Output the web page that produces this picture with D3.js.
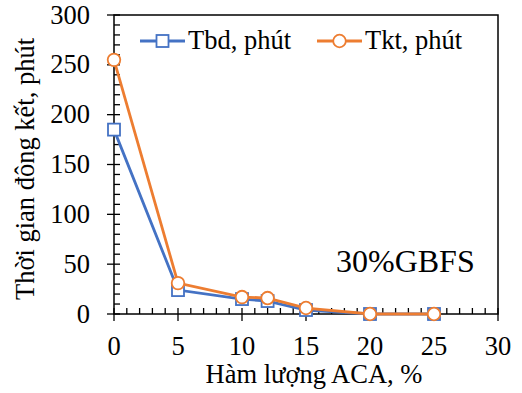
<!DOCTYPE html>
<html><head><meta charset="utf-8">
<script src="https://cdn.jsdelivr.net/npm/d3@7"></script>
<style>body{margin:0;background:#fff}svg{display:block}</style>
</head><body>
<script>
const xValues = [0, 5, 10, 12, 15, 20, 25];
const tbd = [185, 24, 15, 13, 4, 0, 0];
const tkt = [255, 31, 17, 16, 6, 0, 0];
const xTicks = [0, 5, 10, 15, 20, 25, 30];
const yTicks = [0, 50, 100, 150, 200, 250, 300];
const seriesNames = ["Tbd, phút", "Tkt, phút"];
const colors = ["#4472C4", "#ED7D31"];

const FONT = "'Liberation Serif', 'Times New Roman', serif";
const FS = 26.5;
const W = 522, H = 393;
const m = {l: 114, r: 24, t: 15, b: 79};
const svg = d3.select("body").append("svg").attr("width", W).attr("height", H);
const x = d3.scaleLinear().domain([0, 30]).range([m.l, W - m.r]);
const y = d3.scaleLinear().domain([0, 300]).range([H - m.b, m.t]);

// frame
svg.append("rect").attr("x", x(0)).attr("y", y(300)).attr("width", x(30) - x(0)).attr("height", y(0) - y(300))
  .attr("fill", "none").attr("stroke", "#000").attr("stroke-width", 1.5);

// ticks
const g = svg.append("g").attr("stroke", "#000").attr("stroke-width", 1.3);
d3.range(0, 31, 1).forEach(v => {
  if (v % 5 === 0) g.append("line").attr("x1", x(v)).attr("x2", x(v)).attr("y1", y(0) - 6).attr("y2", y(0) + 7);
  else g.append("line").attr("x1", x(v)).attr("x2", x(v)).attr("y1", y(0) - 6).attr("y2", y(0));
});
d3.range(0, 301, 10).forEach(v => {
  if (v % 50 === 0) g.append("line").attr("x1", x(0) - 7).attr("x2", x(0) + 6).attr("y1", y(v)).attr("y2", y(v));
  else g.append("line").attr("x1", x(0)).attr("x2", x(0) + 6).attr("y1", y(v)).attr("y2", y(v));
});

// tick labels
svg.append("g").selectAll("text").data(xTicks).join("text").attr("font-family", FONT)
  .attr("x", d => x(d)).attr("y", 355).attr("text-anchor", "middle").attr("font-size", FS).text(d => d);
svg.append("g").selectAll("text").data(yTicks).join("text").attr("font-family", FONT)
  .attr("x", 90).attr("y", d => y(d) + 8.5).attr("text-anchor", "end").attr("font-size", FS).text(d => d);

// axis titles
svg.append("text").attr("font-family", FONT).attr("x", 314).attr("y", 383).attr("text-anchor", "middle").attr("font-size", FS).text("Hàm lượng ACA, %");
svg.append("text").attr("font-family", FONT).attr("transform", "translate(34,169) rotate(-90)").attr("text-anchor", "middle").attr("font-size", FS).text("Thời gian đông kết, phút");

// series
const line = d3.line().x(d => x(d[0])).y(d => y(d[1]));
const data = [tbd, tkt].map(s => xValues.map((v, i) => [v, s[i]]));
data.forEach((pts, k) => {
  svg.append("path").datum(pts).attr("d", line).attr("fill", "none").attr("stroke", colors[k]).attr("stroke-width", 2.8);
  if (k === 0) {
    svg.append("g").selectAll("rect").data(pts).join("rect")
      .attr("x", d => x(d[0]) - 6).attr("y", d => y(d[1]) - 6).attr("width", 12).attr("height", 12)
      .attr("fill", "#fff").attr("stroke", colors[k]).attr("stroke-width", 1.8);
  } else {
    svg.append("g").selectAll("circle").data(pts).join("circle")
      .attr("cx", d => x(d[0])).attr("cy", d => y(d[1])).attr("r", 6.3)
      .attr("fill", "#fff").attr("stroke", colors[k]).attr("stroke-width", 1.8);
  }
});

// legend
const legX = [140, 317];
seriesNames.forEach((name, k) => {
  const lx = legX[k], ly = 41;
  svg.append("line").attr("x1", lx).attr("x2", lx + 45).attr("y1", ly).attr("y2", ly).attr("stroke", colors[k]).attr("stroke-width", 2.8);
  if (k === 0) svg.append("rect").attr("x", lx + 22.5 - 6).attr("y", ly - 6).attr("width", 12).attr("height", 12)
    .attr("fill", "#fff").attr("stroke", colors[k]).attr("stroke-width", 1.8);
  else svg.append("circle").attr("cx", lx + 22.5).attr("cy", ly).attr("r", 6.3)
    .attr("fill", "#fff").attr("stroke", colors[k]).attr("stroke-width", 1.8);
  svg.append("text").attr("font-family", FONT).attr("x", lx + 48).attr("y", 49).attr("font-size", FS).text(name);
});

svg.append("text").attr("font-family", FONT).attr("x", 336).attr("y", 272).attr("font-size", 32).text("30%GBFS");
</script>
</body></html>
